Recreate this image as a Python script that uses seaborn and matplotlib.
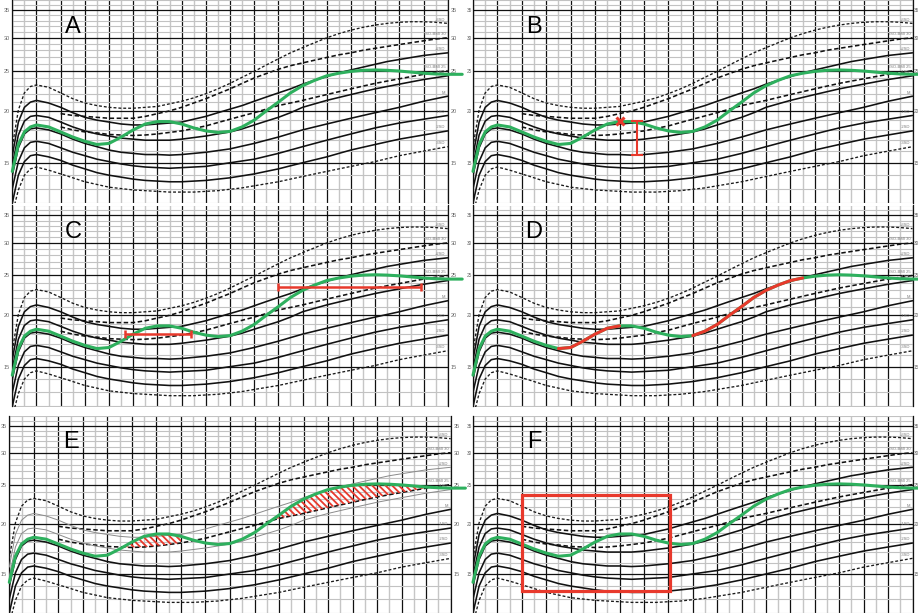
import numpy as np
import pandas as pd
import matplotlib
matplotlib.use("Agg")
import matplotlib.pyplot as plt
import seaborn as sns
from matplotlib.patches import Rectangle
from matplotlib.ticker import NullFormatter

# ---------------- data ----------------
AGES = [0, 0.25, 0.5, 0.75, 1, 1.5, 2, 2.5, 3, 3.5, 4, 4.5, 5, 5.5, 6, 6.5, 7, 7.5,
        8, 8.5, 9, 9.5, 10, 10.5, 11, 11.5, 12, 12.5, 13, 13.5, 14, 14.5, 15, 15.5,
        16, 16.5, 17, 17.5, 18]
NAN = np.nan
SD_P3 = [16.4, 20.1, 22.1, 22.9, 23.1, 22.8, 22.1, 21.4, 20.9, 20.6, 20.4, 20.3, 20.3, 20.4,
         20.5, 20.8, 21.1, 21.5, 22.0, 22.6, 23.3, 24.1, 24.9, 25.8, 26.7, 27.6, 28.4, 29.2,
         30.0, 30.7, 31.3, 31.8, 32.2, 32.5, 32.7, 32.8, 32.8, 32.7, 32.5]
ISO30 = [NAN, NAN, NAN, NAN, NAN, NAN, 19.7, 19.5, 19.4, 19.3, 19.2, 19.2, 19.2, 19.4,
         19.7, 20.0, 20.4, 20.9, 21.4, 22.0, 22.6, 23.3, 24.0, 24.6, 25.2, 25.7, 26.1, 26.5,
         26.9, 27.3, 27.6, 28.0, 28.3, 28.6, 28.9, 29.2, 29.5, 29.8, 30.0]
SD_P2 = [15.6, 18.8, 20.4, 21.0, 21.2, 20.9, 20.4, 19.8, 19.3, 19.0, 18.8, 18.6, 18.5, 18.5,
         18.6, 18.7, 18.8, 19.1, 19.4, 19.8, 20.2, 20.6, 21.1, 21.6, 22.1, 22.6, 23.2, 23.7,
         24.2, 24.7, 25.1, 25.5, 25.9, 26.3, 26.6, 26.9, 27.2, 27.4, 27.6]
ISO25 = [NAN, NAN, NAN, NAN, NAN, NAN, 18.3, 18.0, 17.8, 17.7, 17.55, 17.5, 17.45, 17.5,
         17.6, 17.75, 17.9, 18.15, 18.4, 18.75, 19.1, 19.45, 19.8, 20.2, 20.6, 20.9, 21.2,
         21.55, 21.9, 22.25, 22.6, 22.95, 23.3, 23.6, 23.9, 24.2, 24.5, 24.75, 25.0]
SD_P1 = [14.8, 17.5, 18.9, 19.4, 19.5, 19.3, 18.8, 18.3, 17.9, 17.6, 17.4, 17.2, 17.1, 17.0,
         17.0, 17.0, 17.1, 17.25, 17.4, 17.6, 17.8, 18.1, 18.5, 18.9, 19.3, 19.8, 20.4, 20.8,
         21.2, 21.55, 21.9, 22.25, 22.6, 22.9, 23.2, 23.5, 23.8, 24.05, 24.3]
SD_M = [14.0, 16.3, 17.6, 18.1, 18.2, 18.0, 17.6, 17.1, 16.7, 16.4, 16.1, 15.9, 15.8, 15.7,
        15.7, 15.65, 15.7, 15.8, 15.9, 16.05, 16.2, 16.45, 16.7, 17.0, 17.3, 17.65, 18.0,
        18.3, 18.6, 18.9, 19.2, 19.5, 19.8, 20.1, 20.4, 20.75, 21.1, 21.4, 21.7]
SD_M1 = [13.0, 15.1, 16.3, 16.8, 16.9, 16.7, 16.3, 15.9, 15.6, 15.3, 15.1, 14.9, 14.75, 14.65,
         14.6, 14.55, 14.6, 14.65, 14.7, 14.85, 15.0, 15.15, 15.3, 15.55, 15.8, 16.1, 16.4,
         16.7, 17.0, 17.3, 17.6, 17.9, 18.2, 18.45, 18.7, 18.9, 19.1, 19.3, 19.5]
SD_M2 = [12.0, 14.0, 15.1, 15.6, 15.7, 15.5, 15.2, 14.8, 14.5, 14.2, 14.0, 13.85, 13.7, 13.6,
         13.55, 13.5, 13.5, 13.55, 13.6, 13.7, 13.8, 13.95, 14.1, 14.3, 14.5, 14.75, 15.0,
         15.25, 15.5, 15.8, 16.1, 16.35, 16.6, 16.85, 17.1, 17.3, 17.5, 17.7, 17.9]
SD_M3 = [11.3, 12.9, 14.0, 14.5, 14.65, 14.4, 14.1, 13.8, 13.5, 13.3, 13.1, 13.0, 12.9, 12.85,
         12.8, 12.75, 12.75, 12.75, 12.8, 12.85, 12.95, 13.05, 13.2, 13.35, 13.5, 13.7, 13.9,
         14.1, 14.3, 14.5, 14.7, 14.9, 15.1, 15.35, 15.6, 15.8, 16.0, 16.2, 16.4]

CURVE_NAMES = ["+3SD", "ISO-BMI 30", "+2SD", "ISO-BMI 25", "+1SD", "M", "-1SD", "-2SD", "-3SD"]
CURVE_VALUES = [SD_P3, ISO30, SD_P2, ISO25, SD_P1, SD_M, SD_M1, SD_M2, SD_M3]

CHILD_AGES = AGES + [18.6]
CHILD_BMI = [14.3, 16.6, 17.8, 18.3, 18.5, 18.3, 17.8, 17.3, 16.9, 16.6, 16.7, 17.3, 18.0, 18.6,
             18.85, 18.85, 18.6, 18.2, 17.9, 17.75, 17.85, 18.3, 19.0, 20.0, 21.0, 22.1, 23.0,
             23.7, 24.3, 24.65, 24.9, 25.05, 25.1, 25.05, 24.95, 24.8, 24.65, 24.55, 24.5, 24.5]

PANEL_LETTERS = ["A", "B", "C", "D", "E", "F"]
Y_TICKS = [15, 20, 25, 30, 35]
Y_TICK_LABELS = ["15", "20", "25", "30", "35"]
B_MARK = (6.0, 18.9)                       # age, BMI of the red cross
B_BAR = (6.73, 15.7, 18.9)                 # age, low, high
C_BARS = [(4.66, 7.37, 18.0), (11.0, 16.9, 23.5)]   # age from, age to, BMI
D_RED_SPANS = [(3.5, 6.0), (9.0, 13.5)]
E_HATCH_SPANS = [(4.5, 7.0), (10.5, 18.0)]
F_RECT = (2.02, 8.07, 13.6, 23.6)          # age lo, age hi, BMI lo, BMI hi

# ---------------- layout / style ----------------
W, H = 918, 613
GREEN = "#2eb05e"
RED = "#e8392c"
# x at age 0, x at age 18, y of 35-line, y of 15-line, top, bottom (pixels)
GEOM = {
    "A": (12.3, 447.7, 6.0, 162.3, 0.0, 203.0),
    "B": (473.0, 912.5, 6.0, 164.3, 0.0, 203.0),
    "C": (12.3, 447.7, 212.0, 367.3, 205.5, 406.5),
    "D": (473.0, 912.5, 212.3, 369.7, 205.5, 406.5),
    "E": (9.3, 450.7, 421.0, 578.3, 416.0, 613.0),
    "F": (473.0, 912.5, 421.0, 578.3, 416.0, 613.0),
}
DOT = (0, (2.2, 1.5))
DASH = (0, (2.8, 1.6))
STYLES = {
    "+3SD": dict(color="#1a1a1a", lw=0.95, ls=DOT),
    "ISO-BMI 30": dict(color="#111111", lw=1.15, ls=DASH),
    "+2SD": dict(color="#111111", lw=1.15, ls="-"),
    "ISO-BMI 25": dict(color="#111111", lw=1.15, ls=DASH),
    "+1SD": dict(color="#111111", lw=1.15, ls="-"),
    "M": dict(color="#111111", lw=1.15, ls="-"),
    "-1SD": dict(color="#111111", lw=1.15, ls="-"),
    "-2SD": dict(color="#111111", lw=1.15, ls="-"),
    "-3SD": dict(color="#1a1a1a", lw=0.95, ls=DOT),
}

sns.set_theme(style="white")
plt.rcParams["font.family"] = ["Liberation Sans", "DejaVu Sans"]
plt.rcParams["hatch.linewidth"] = 1.3
plt.rcParams["hatch.color"] = RED

rows = []
for name, vals in zip(CURVE_NAMES, CURVE_VALUES):
    for a, v in zip(AGES, vals):
        rows.append((name, a, v))
curves = pd.DataFrame(rows, columns=["curve", "age", "bmi"]).dropna()
child = pd.DataFrame({"age": CHILD_AGES, "bmi": CHILD_BMI})

fig = plt.figure(figsize=(W / 100, H / 100), dpi=100)


def make_axes(key):
    x0, x18, y35, y15, top, bot = GEOM[key]
    k = (y15 - y35) / np.log(35 / 15)
    ymax = 35 * np.exp((y35 - top) / k)
    ymin = 15 * np.exp(-(bot - y15) / k)
    ax = fig.add_axes([x0 / W, 1 - bot / H, (x18 - x0) / W, (bot - top) / H])
    ax.set_yscale("log")
    return ax, ymin, ymax


for idx, key in enumerate(PANEL_LETTERS):
    right_col = idx % 2 == 1
    ax, ymin, ymax = make_axes(key)
    # percentile curves
    for name in CURVE_NAMES:
        st = dict(STYLES[name])
        if key == "E" and name in ("+2SD", "+1SD"):
            st = dict(color="#8a8a8a", lw=0.7, ls="-")
        d = curves[curves.curve == name]
        sns.lineplot(data=d, x="age", y="bmi", ax=ax, color=st["color"], lw=st["lw"],
                     linestyle=st["ls"], estimator=None, legend=False, zorder=3)
        last = d.iloc[-1]
        ax.annotate(name, xy=(last.age, last.bmi), xytext=(-1.5, 1.2),
                    textcoords="offset points", ha="right", va="bottom",
                    fontsize=3.0, color="#7a7a7a", zorder=3)

    # hatched areas (E)
    if key == "E":
        g = np.array(CHILD_BMI[:len(AGES)])
        iso = np.array(ISO25, dtype=float)
        ages = np.array(AGES, dtype=float)
        for lo, hi in E_HATCH_SPANS:
            sel = (ages >= lo) & (ages <= hi)
            ax.fill_between(ages[sel], iso[sel], g[sel], where=g[sel] >= iso[sel],
                            interpolate=True, facecolor="none", edgecolor=RED,
                            hatch="\\\\\\\\\\", linewidth=0, zorder=4)

    # child's curve
    sns.lineplot(data=child, x="age", y="bmi", ax=ax, color=GREEN, lw=2.2,
                 estimator=None, legend=False, clip_on=False, zorder=5)

    if key == "B":
        ax.plot([B_MARK[0]], [B_MARK[1]], marker="x", color=RED, ms=5.5, mew=2.2,
                ls="none", zorder=7)
        bx, blo, bhi = B_BAR
        ax.errorbar([bx], [blo], yerr=[[0], [bhi - blo]], fmt="none", ecolor=RED,
                    elinewidth=1.5, capsize=4.3, capthick=1.5, zorder=6)
    if key == "C":
        for a0, a1, lvl in C_BARS:
            ax.errorbar([(a0 + a1) / 2], [lvl], xerr=[(a1 - a0) / 2], fmt="none",
                        ecolor=RED, elinewidth=1.8, capsize=3, capthick=1.8, zorder=6)
    if key == "D":
        for lo, hi in D_RED_SPANS:
            seg = child[(child.age >= lo) & (child.age <= hi)]
            sns.lineplot(data=seg, x="age", y="bmi", ax=ax, color=RED, lw=2.2,
                         estimator=None, legend=False, zorder=6)
    if key == "F":
        a0, a1, b0, b1 = F_RECT
        ax.add_patch(Rectangle((a0, b0), a1 - a0, b1 - b0, fill=False,
                               edgecolor=RED, lw=2.3, zorder=6))

    ax.text(2.5, 31.9, key, fontsize=17, ha="center", va="center", color="black",
            zorder=8)

    # axes / grid
    ax.set_xlim(0, 18)
    ax.set_ylim(ymin, ymax)
    ax.set_xticks(range(0, 19))
    ax.set_xticks(np.arange(0.5, 18, 1), minor=True)
    ax.set_yticks(Y_TICKS, labels=Y_TICK_LABELS)
    ax.set_yticks([v for v in range(12, 38) if v % 5], minor=True)
    ax.yaxis.set_minor_formatter(NullFormatter())
    ax.set_axisbelow(True)
    ax.grid(True, which="minor", axis="x", color="#c6c6c6", lw=1.0)
    ax.grid(True, which="minor", axis="y", color="#c2c2c2", lw=0.8)
    ax.grid(True, which="major", axis="x", color="#111111", lw=0.9)
    ax.grid(True, which="major", axis="y", color="#111111", lw=0.9)
    ax.tick_params(which="both", length=0, labelbottom=False, labelleft=True,
                   labelright=True, labelsize=4, labelcolor="#666666", pad=2)
    if right_col:
        ax.tick_params(axis="y", which="major", labelsize=3.4, pad=0.6)
    ax.set_xlabel("")
    ax.set_ylabel("")
    for s in ("top", "bottom"):
        ax.spines[s].set_visible(False)
    for s in ("left", "right"):
        ax.spines[s].set_visible(True)
        ax.spines[s].set_color("#111111")
        ax.spines[s].set_linewidth(0.9)

fig.savefig("out.png", dpi=100)
